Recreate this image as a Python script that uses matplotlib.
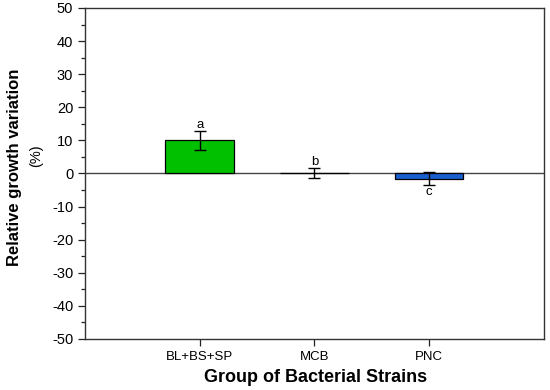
import numpy as np
from matplotlib import pyplot as plt
from matplotlib.ticker import MultipleLocator

plt.rcParams['font.family'] = ['Liberation Sans', 'DejaVu Sans']
plt.rcParams['axes.unicode_minus'] = False

groups = ['BL+BS+SP', 'MCB', 'PNC']
values = [10.0, 0.2, -1.6]
errors = [2.8, 1.6, 2.0]
letters = ['a', 'b', 'c']
letter_y = [14.8, 3.4, -5.6]
colors = ['#00c000', '#00c000', '#1a5fd0']

fig = plt.figure(figsize=(5.5, 3.9), dpi=100)
ax = fig.add_axes([0.1545, 0.1308, 0.834, 0.8487])

x = np.arange(1, len(groups) + 1)
ax.bar(x, values, width=0.6, color=colors, edgecolor='black', linewidth=0.9, zorder=2)
ax.errorbar(x, values, yerr=errors, fmt='none', ecolor='black', elinewidth=1,
            capsize=4.5, capthick=1, zorder=3)
ax.axhline(0, color='#444444', linewidth=1, zorder=1)

for xi, lab, ly in zip(x, letters, letter_y):
    ax.text(xi, ly, lab, ha='center', va='center', fontsize=9.5)

ax.set_xlim(0, 4)
ax.set_ylim(-50, 50)
ax.set_xticks(x)
ax.set_xticklabels(groups)
ax.yaxis.set_major_locator(MultipleLocator(10))
ax.yaxis.set_minor_locator(MultipleLocator(5))
ax.tick_params(axis='both', which='major', direction='out', length=5, width=0.9,
               labelsize=9.5, colors='#222222', labelcolor='black')
ax.tick_params(axis='y', which='major', labelsize=10.5)
ax.tick_params(axis='y', which='minor', direction='out', length=3, width=0.9, colors='#222222')
for s in ax.spines.values():
    s.set_color('#333333')
    s.set_linewidth(1)

fig.text(0.573, 0.033, 'Group of Bacterial Strains', ha='center', va='center',
         fontsize=13, fontweight='bold')
fig.text(0.026, 0.57, 'Relative growth variation', rotation=90, ha='center', va='center',
         fontsize=12, fontweight='bold')
fig.text(0.066, 0.60, '(%)', rotation=90, ha='center', va='center', fontsize=10.5)

fig.savefig('out.png', dpi=100)
